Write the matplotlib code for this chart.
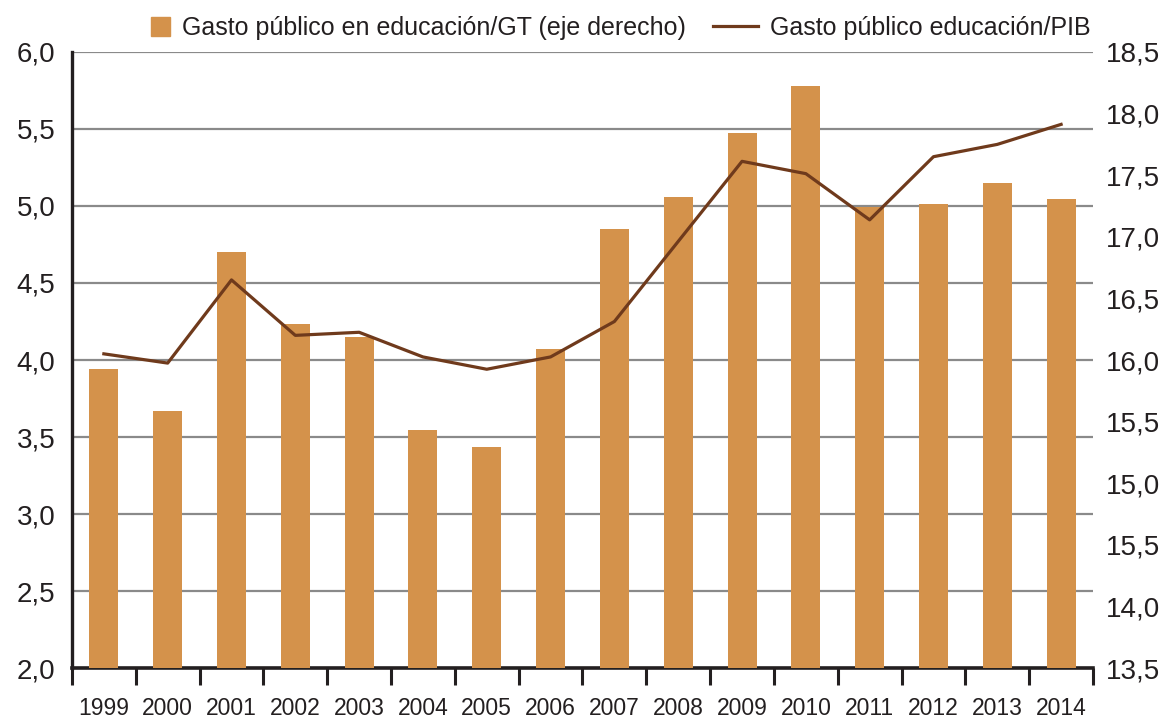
import numpy as np
import matplotlib
matplotlib.use("Agg")
from matplotlib import pyplot as plt
from matplotlib.ticker import FixedLocator
from matplotlib.patches import Rectangle
from matplotlib.legend_handler import HandlerPatch

# data
years = ['1999', '2000', '2001', '2002', '2003', '2004', '2005', '2006',
         '2007', '2008', '2009', '2010', '2011', '2012', '2013', '2014']
gasto_gt = [15.93, 15.59, 16.88, 16.29, 16.19, 15.43, 15.29, 16.09,
            17.06, 17.32, 17.84, 18.22, 17.24, 17.27, 17.44, 17.31]   # eje derecho
gasto_pib = [4.04, 3.98, 4.52, 4.16, 4.18, 4.02, 3.94, 4.02,
             4.25, 4.77, 5.29, 5.21, 4.91, 5.32, 5.40, 5.53]          # eje izquierdo
left_ticks = [2.0, 2.5, 3.0, 3.5, 4.0, 4.5, 5.0, 5.5, 6.0]
left_labels = ['2,0', '2,5', '3,0', '3,5', '4,0', '4,5', '5,0', '5,5', '6,0']
right_ticks = [13.5, 14.0, 14.5, 15.0, 15.5, 16.0, 16.5, 17.0, 17.5, 18.0, 18.5]
right_labels = ['13,5', '14,0', '15,5', '15,0', '15,5', '16,0', '16,5', '17,0', '17,5', '18,0', '18,5']
lab_bars = 'Gasto público en educación/GT (eje derecho)'
lab_line = 'Gasto público educación/PIB'

bar_col = '#D4924B'
line_col = '#6F3A1C'
txt_col = '#231F20'

plt.rcParams['font.family'] = ['Liberation Sans', 'DejaVu Sans']

fig = plt.figure(figsize=(11.7, 7.18), dpi=100)
ax = fig.add_axes([0.0615, 0.0696, 0.8727, 0.858])
ax2 = ax.twinx()   # bars, right scale
ax3 = ax.twinx()   # line, left scale, drawn on top

x = np.arange(len(years))

# left axis: grid + labels
ax.set_xlim(-0.5, len(years) - 0.5)
ax.set_ylim(2.0, 6.0)
ax.set_yticks(left_ticks, left_labels)
ax.grid(axis='y', color='#8A8A8A', lw=1.6)
ax.set_axisbelow(True)
ax.tick_params(axis='y', length=0, pad=12, labelsize=20, labelcolor=txt_col)
ax.set_xticks(x, years)
ax.xaxis.set_minor_locator(FixedLocator(np.arange(-0.5, len(years), 1.0)))
ax.tick_params(axis='x', which='major', length=0, pad=21, labelsize=16.5, labelcolor=txt_col)
ax.tick_params(axis='x', which='minor', length=12, width=2.2, color=txt_col)
for s in ['top', 'right']:
    ax.spines[s].set_visible(False)
ax.spines['left'].set_linewidth(2.4)
ax.spines['left'].set_color(txt_col)
ax.spines['left'].set_bounds(2.0, 6.0)
ax.spines['bottom'].set_linewidth(2.6)
ax.spines['bottom'].set_color(txt_col)

# right axis: bars
ax2.bar(x, gasto_gt, width=0.455, color=bar_col, zorder=2)
ax2.set_ylim(13.5, 18.5)
ax2.set_yticks(right_ticks, right_labels)
ax2.tick_params(axis='y', length=0, pad=9, labelsize=20, labelcolor=txt_col)
for s in ax2.spines.values():
    s.set_visible(False)

# line on left scale
line, = ax3.plot(x, gasto_pib, color=line_col, lw=2.3)
ax3.set_ylim(2.0, 6.0)
ax3.set_yticks([])
for s in ax3.spines.values():
    s.set_visible(False)


def square_handle(legend, orig_handle, xdescent, ydescent, width, height, fontsize):
    s = 13.7
    return Rectangle((-xdescent + width - s, -ydescent + (height - s) / 2), s, s)


bar_proxy = Rectangle((0, 0), 1, 1, color=bar_col)
fig.legend([bar_proxy, line], [lab_bars, lab_line], loc='center',
           bbox_to_anchor=(0.5197, 0.961), ncol=2,
           frameon=False, fontsize=18, handlelength=1.8, handleheight=0.7,
           handletextpad=0.48, columnspacing=1.1, labelcolor=txt_col,
           handler_map={Rectangle: HandlerPatch(patch_func=square_handle)})

fig.savefig('out.png', dpi=100)
